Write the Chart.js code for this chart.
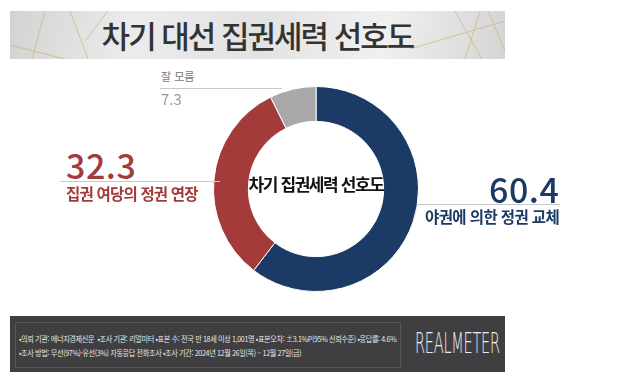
<!DOCTYPE html>
<html lang="ko">
<head>
<meta charset="utf-8">
<script src="https://cdn.jsdelivr.net/npm/chart.js@4.4.1/dist/chart.umd.min.js"></script>
<style>
  body { margin: 0; width: 640px; height: 386px; background: #fff; position: relative; overflow: hidden;
         font-family: "Noto Sans CJK KR", "Noto Sans", sans-serif; }
  .banner { position: absolute; left: 10px; top: 11px; width: 495px; height: 48px;
            background: linear-gradient(100deg, #d2d2d2 0%, #ececec 25%, #e2e2e2 50%, #f0f0f0 75%, #d4d4d4 100%); }
  .banner svg { position: absolute; left: 0; top: 0; }
  .banner .t { position: absolute; left: 0; right: 0; top: 4px; text-align: center; font-size: 31px; font-weight: 500;
               color: #333; letter-spacing: -2px; line-height: 40px; }
  .chartbox { position: absolute; left: 213px; top: 86px; width: 206px; height: 206px; }
  .center { position: absolute; left: 216px; top: 174px; width: 200px; text-align: center; font-size: 17px; line-height: 20px;
            font-weight: 700; color: #111; letter-spacing: -1.4px; }
  .lab { position: absolute; white-space: nowrap; line-height: 1; }
  .rule { position: absolute; height: 0; border-top: 1px solid #c8c8c8; }
  .footer { position: absolute; left: 10px; top: 316px; width: 495px; height: 56px; background: #3f3f41; overflow: hidden; }
  .footer .inner { position: absolute; left: 5px; top: 6px; width: 384px; height: 44px; border: 1px solid #555; }
  .footer .ln { position: absolute; left: 3px; font-size: 8px; line-height: 10px; color: #e6e6e6; white-space: nowrap;
                letter-spacing: -0.4px; transform: scaleX(0.89); transform-origin: left; }
  .footer .brand { position: absolute; left: 405px; top: 9px; font-family: "DejaVu Sans ExtraLight", "DejaVu Sans", sans-serif;
                   font-size: 29px; font-weight: 200; color: #eee; line-height: 36px; letter-spacing: -0.5px;
                   transform: scaleX(0.5); transform-origin: left; }
</style>
</head>
<body>
<div class="banner">
  <svg width="495" height="48">
    <g stroke="#c9b46a" stroke-width="0.8" fill="none" opacity="0.8">
      <line x1="35" y1="0" x2="22" y2="48"/>
      <line x1="60" y1="0" x2="78" y2="48"/>
      <line x1="0" y1="34" x2="55" y2="48"/>
      <line x1="75" y1="30" x2="98" y2="0"/>
      <line x1="445" y1="0" x2="472" y2="48"/>
      <line x1="470" y1="0" x2="455" y2="48"/>
      <line x1="478" y1="0" x2="495" y2="40"/>
      <line x1="400" y1="38" x2="495" y2="10"/>
    </g>
  </svg>
  <div class="t">차기 대선 집권세력 선호도</div>
</div>

<div class="chartbox"><canvas id="pref"></canvas></div>
<div class="center">차기 집권세력 선호도</div>

<!-- 잘 모름 -->
<div class="lab" style="left:161px; top:71px; font-size:11px; color:#777;">잘 모름</div>
<div class="rule" style="left:160px; top:88px; width:122px;"></div>
<div class="lab" style="left:161px; top:91px; font-size:15px; color:#999;">7.3</div>

<!-- 여당 -->
<div class="lab" style="left:66px; top:148px; font-size:34px; font-weight:500; color:#a33b3b; letter-spacing:0.5px;">32.3</div>
<div class="rule" style="left:60px; top:181px; width:160px;"></div>
<div class="lab" style="left:66px; top:186px; font-size:15.5px; font-weight:700; color:#a33b3b; letter-spacing:-0.8px;">집권 여당의 정권 연장</div>

<!-- 야권 -->
<div class="lab" style="left:489px; top:172px; font-size:34px; font-weight:500; color:#1c3a66; letter-spacing:0.5px;">60.4</div>
<div class="rule" style="left:418px; top:204px; width:142px;"></div>
<div class="lab" style="left:425px; top:209px; font-size:15.5px; font-weight:700; color:#1c3a66; letter-spacing:-0.6px;">야권에 의한 정권 교체</div>

<div class="footer">
  <div class="inner">
    <div class="ln" style="top:11px;">•의뢰 기관: 에너지경제신문 &nbsp;•조사 기관: 리얼미터 •표본 수: 전국 만 18세 이상 1,001명 •표본오차: ±3.1%P(95% 신뢰수준) •응답률: 4.6%</div>
    <div class="ln" style="top:25px;">•조사 방법: 무선(97%)·유선(3%) 자동응답 전화조사 •조사 기간: 2024년 12월 26일(목) ~ 12월 27일(금)</div>
  </div>
  <div class="brand">REALMETER</div>
</div>

<script>
// 차기 집권세력 선호도 (%)
const labels = ['야권에 의한 정권 교체', '집권 여당의 정권 연장', '잘 모름'];
const values = [60.4, 32.3, 7.3];
const colors = ['#1c3a66', '#a33b3b', '#a9a9a9'];

new Chart(document.getElementById('pref').getContext('2d'), {
    type: 'doughnut',
    data: {
        labels: labels,
        datasets: [{ data: values, backgroundColor: colors, borderColor: '#ffffff', borderWidth: 1 }]
    },
    options: {
        responsive: true, maintainAspectRatio: false, animation: false,
        cutout: '66%',
        layout: { padding: 0 },
        plugins: { legend: { display: false }, tooltip: { enabled: false } }
    }
});
</script>
</body>
</html>
